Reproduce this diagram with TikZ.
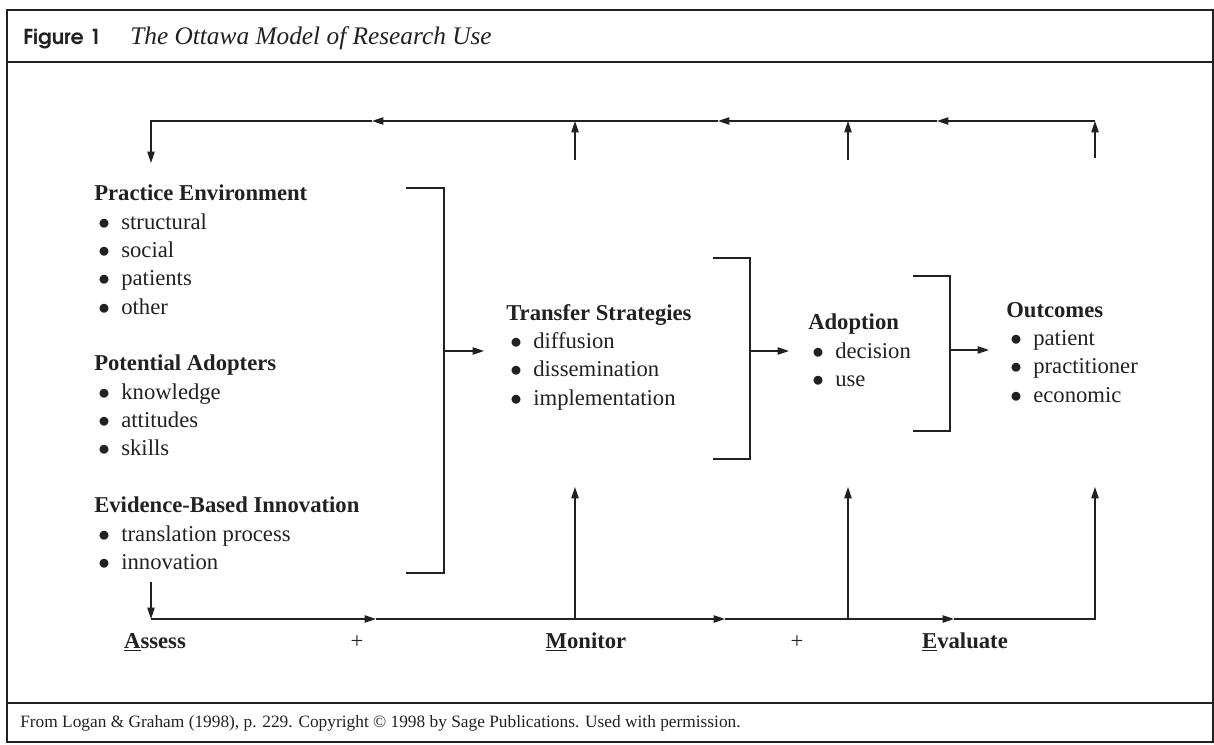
\documentclass[tikz,border=0pt]{standalone}
\usepackage{fontspec}
\setmainfont{Liberation Serif}
\usepackage{tikz}
\usetikzlibrary{arrows.meta,positioning}
\definecolor{ink}{gray}{0.13}
\newcommand{\itm}[1]{\\\hspace*{3pt}\makebox[17.3pt][l]{$\bullet$}#1}

\begin{document}
\begin{tikzpicture}[x=0.75pt,y=-0.75pt]

\tikzset{block/.style={
  anchor=north west,
  inner sep=0pt,
  align=left,
  text=ink,
  font=\fontsize{17}{21.2}\selectfont
  },
  flowarrow/.style={draw=ink, line width=1pt,
    -{Triangle[length=8.5pt,width=5.5pt]}},
  bracketline/.style={draw=ink, line width=1pt},
  stagelabel/.style={anchor=base, inner sep=0pt, text=ink,
    font=\fontsize{17}{20}\selectfont\bfseries}
}

\useasboundingbox (0,0) rectangle (1214,745);

% frame with title and source bands
\draw[ink, line width=1.3pt] (7,10) rectangle (1213,742);
\draw[ink, line width=1.3pt] (7,62) -- (1213,62);
\draw[ink, line width=1.3pt] (7,703) -- (1213,703);
\node[anchor=base west, inner sep=0pt, text=ink] (fig) at (23,45)
  {\usefont{OT1}{pag}{db}{n}\fontsize{15.5}{18}\selectfont Figure 1};
\node[anchor=base west, inner sep=0pt, text=ink] (title) at (130,45)
  {\fontsize{19}{22}\selectfont\itshape The Ottawa Model of Research Use};
\node[anchor=base west, inner sep=0pt, text=ink] (src) at (20,727)
  {\fontsize{13}{15}\selectfont From Logan \& Graham (1998), p. 229. Copyright \copyright\ 1998 by Sage Publications. Used with permission.};

% the elements and their attributes
\node[block] (PE) at (94,185) {\textbf{Practice Environment}\itm{structural}\itm{social}\itm{patients}\itm{other}};
\node[block] (PA) at (94,355) {\textbf{Potential Adopters}\itm{knowledge}\itm{attitudes}\itm{skills}};
\node[block] (EBI) at (94,497) {\textbf{Evidence-Based Innovation}\itm{translation process}\itm{innovation}};
\node[block] (TS) at (506,304) {\textbf{Transfer Strategies}\itm{diffusion}\itm{dissemination}\itm{implementation}};
\node[block] (AD) at (808,314) {\textbf{Adoption}\itm{decision}\itm{use}};
\node[block] (OUT) at (1006,302) {\textbf{Outcomes}\itm{patient}\itm{practitioner}\itm{economic}};

% brackets
\path[bracketline] (406,188) -- (444,188) -- (444,573) -- (406,573);
\path[bracketline] (713,258) -- (750,258) -- (750,459) -- (713,459);
\path[bracketline] (913,276) -- (950,276) -- (950,431) -- (913,431);
\coordinate (brA) at (444,351);
\coordinate (brB) at (750,351);
\coordinate (brC) at (950,350);
\coordinate (inTS) at (484,351);
\coordinate (inAD) at (789,351);
\coordinate (inOUT) at (989,350);
\path[flowarrow] (brA) -- (inTS);
\path[flowarrow] (brB) -- (inAD);
\path[flowarrow] (brC) -- (inOUT);

% feedback along the top
\coordinate (ts-up) at (575,160);
\coordinate (ad-up) at (848,160);
\coordinate (out-up) at (1095,158);
\coordinate (ts-top) at (575,121);
\coordinate (ad-top) at (848,121);
\coordinate (out-top) at (1095,121);
\coordinate (fb1) at (937,121);
\coordinate (fb2) at (718,121);
\coordinate (fb3) at (372,121);
\coordinate (fb-corner) at (151,121);
\coordinate (fb-end) at (151,163);
\path[flowarrow] (ts-up) -- (ts-top);
\path[flowarrow] (ad-up) -- (ad-top);
\path[flowarrow] (out-up) -- (out-top);
\path[flowarrow] (out-top) -- (fb1);
\path[flowarrow] (fb1) -- (fb2);
\path[flowarrow] (fb2) -- (fb3);
\path[flowarrow] (fb3) -- (fb-corner) -- (fb-end);

% assess, monitor, evaluate along the bottom
\coordinate (ev-start) at (151,582);
\coordinate (ev-corner) at (151,619);
\coordinate (b1) at (376,619);
\coordinate (ts-foot) at (575,619);
\coordinate (b2) at (725,619);
\coordinate (ad-foot) at (848,619);
\coordinate (b3) at (954,619);
\coordinate (out-foot) at (1095,619);
\coordinate (ts-head) at (575,487);
\coordinate (ad-head) at (848,487);
\coordinate (out-head) at (1095,487);
\path[flowarrow] (ev-start) -- (ev-corner);
\path[flowarrow] (ev-corner) -- (b1);
\path[flowarrow] (b1) -- (ts-foot) -- (b2);
\path[flowarrow] (b2) -- (ad-foot) -- (b3);
\path[flowarrow] (b3) -- (out-foot) -- (out-head);
\path[flowarrow] (ts-foot) -- (ts-head);
\path[flowarrow] (ad-foot) -- (ad-head);

\node[stagelabel] (assess) at (155,648) {\underline{A}ssess};
\node[stagelabel, font=\fontsize{17}{20}\selectfont] (plus1) at (357,648) {+};
\node[stagelabel] (monitor) at (586,648) {\underline{M}onitor};
\node[stagelabel, font=\fontsize{17}{20}\selectfont] (plus2) at (797,648) {+};
\node[stagelabel] (evaluate) at (965,648) {\underline{E}valuate};

\end{tikzpicture}
\end{document}
